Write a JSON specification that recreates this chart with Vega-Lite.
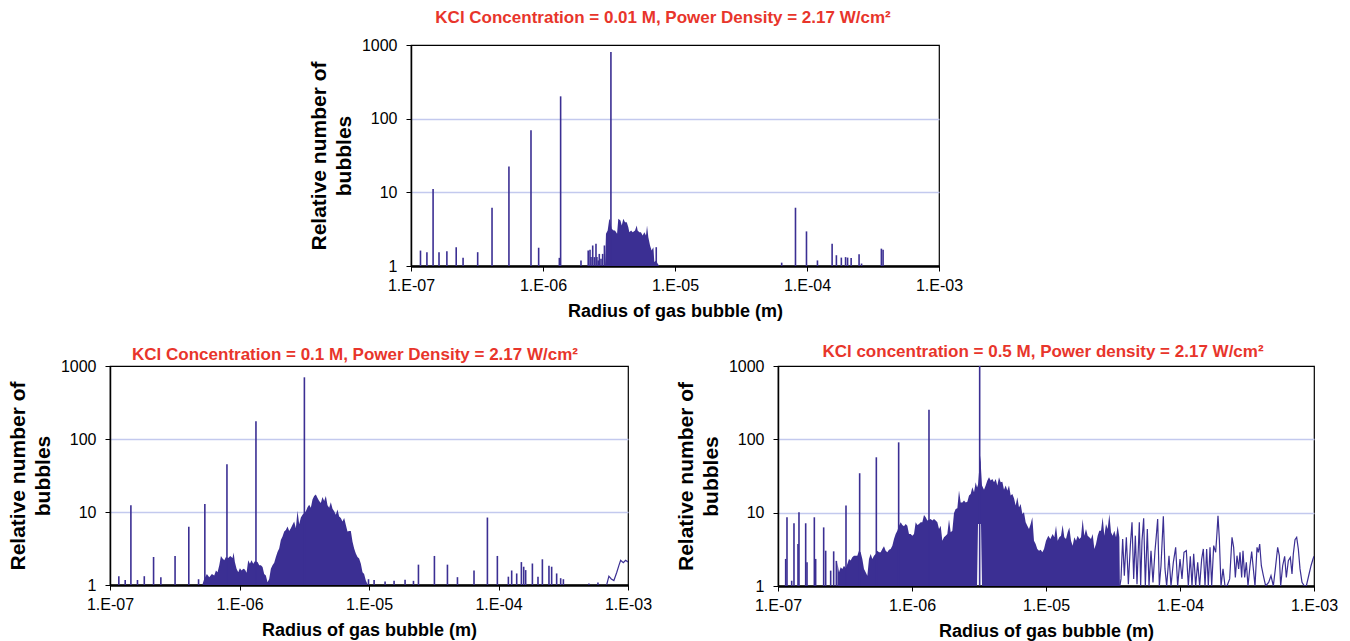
{
  "$schema": "https://vega.github.io/schema/vega-lite/v6.json",
  "background": "white",
  "padding": {"left": 6, "top": 8, "right": 0, "bottom": 0},
  "config": {
    "font": "Liberation Sans",
    "view": {"stroke": "#000000", "strokeWidth": 1.2},
    "axis": {"labelFont": "Liberation Sans", "labelFontSize": 16, "labelColor": "#000000", "titleFont": "Liberation Sans", "titleFontWeight": "bold", "titleColor": "#000000", "tickColor": "#000000", "domainColor": "#000000", "tickSize": 5, "labelOverlap": false, "labelFlush": false},
    "axisX": {"grid": false, "domainWidth": 2.5, "zindex": 1, "labelPadding": 6, "titlePadding": 9, "titleFontSize": 18},
    "axisY": {"domainWidth": 1.5, "labelPadding": 9, "titlePadding": 7, "titleFontSize": 21, "titleLineHeight": 25, "gridColor": "#c3c9ee", "gridWidth": 1.5},
    "title": {"font": "Liberation Sans", "fontSize": 17, "fontWeight": "bold", "color": "#e8352b", "anchor": "middle", "frame": "group"},
    "concat": {"spacing": 0}
  },
  "datasets": {
    "top_area": [
      {"r": 2.95e-6, "n": 1}, {"r": 3.00e-6, "n": 2.73}, {"r": 3.09e-6, "n": 3.03}, {"r": 3.18e-6, "n": 4.37}, {"r": 3.22e-6, "n": 4.14}, {"r": 3.31e-6, "n": 3.2}, {"r": 3.43e-6, "n": 3.03}, {"r": 3.51e-6, "n": 3.03}, {"r": 3.64e-6, "n": 2.73}, {"r": 3.72e-6, "n": 4.37}, {"r": 3.86e-6, "n": 4.14}, {"r": 3.95e-6, "n": 3.55}, {"r": 4.06e-6, "n": 4.37}, {"r": 4.18e-6, "n": 3.93}, {"r": 4.31e-6, "n": 3.93}, {"r": 4.43e-6, "n": 3.36}, {"r": 4.51e-6, "n": 2.88}, {"r": 4.65e-6, "n": 3.03}, {"r": 4.78e-6, "n": 2.88}, {"r": 4.98e-6, "n": 3.03}, {"r": 5.13e-6, "n": 3.55}, {"r": 5.21e-6, "n": 3.03}, {"r": 5.37e-6, "n": 2.88}, {"r": 5.52e-6, "n": 2.88}, {"r": 5.69e-6, "n": 2.59}, {"r": 5.86e-6, "n": 2.88}, {"r": 6.03e-6, "n": 2.59}, {"r": 6.14e-6, "n": 3.55}, {"r": 6.28e-6, "n": 2.46}, {"r": 6.47e-6, "n": 1.9}, {"r": 6.65e-6, "n": 1.62}, {"r": 6.86e-6, "n": 1.8}, {"r": 6.97e-6, "n": 1.13}, {"r": 7.18e-6, "n": 1.19}, {"r": 7.40e-6, "n": 1.07}, {"r": 7.60e-6, "n": 1}
    ],
    "top_spikes": [
      {"r": 1.18e-7, "n": 1.62}, {"r": 1.32e-7, "n": 1.54}, {"r": 1.47e-7, "n": 11.1}, {"r": 1.63e-7, "n": 1.54}, {"r": 1.87e-7, "n": 1.59}, {"r": 2.20e-7, "n": 1.8}, {"r": 2.48e-7, "n": 1.29}, {"r": 3.20e-7, "n": 1.54}, {"r": 4.11e-7, "n": 6.16}, {"r": 5.52e-7, "n": 22.4}, {"r": 8.11e-7, "n": 69.5}, {"r": 9.27e-7, "n": 1.77}, {"r": 1.33e-6, "n": 1.29}, {"r": 1.36e-6, "n": 201}, {"r": 1.94e-6, "n": 1.19},
      {"r": 2.20e-6, "n": 1.62}, {"r": 2.27e-6, "n": 1.66}, {"r": 2.31e-6, "n": 1.32}, {"r": 2.38e-6, "n": 1.9}, {"r": 2.45e-6, "n": 1.32}, {"r": 2.52e-6, "n": 2.0}, {"r": 2.56e-6, "n": 1.32}, {"r": 2.62e-6, "n": 1.19}, {"r": 2.67e-6, "n": 1.46}, {"r": 2.75e-6, "n": 1.25}, {"r": 2.83e-6, "n": 1.46}, {"r": 2.92e-6, "n": 1.9},
      {"r": 3.27e-6, "n": 804}, {"r": 7.21e-6, "n": 1.8}, {"r": 6.43e-5, "n": 1.11}, {"r": 8.18e-5, "n": 6.18}, {"r": 9.91e-5, "n": 2.95}, {"r": 1.20e-4, "n": 1.19}, {"r": 1.55e-4, "n": 2.01}, {"r": 1.67e-4, "n": 1.4}, {"r": 1.82e-4, "n": 1.3}, {"r": 1.96e-4, "n": 1.32}, {"r": 2.03e-4, "n": 1.3}, {"r": 2.16e-4, "n": 1.28}, {"r": 2.48e-4, "n": 1.44}, {"r": 2.59e-4, "n": 1.08}, {"r": 3.66e-4, "n": 1.72}, {"r": 3.77e-4, "n": 1.66}
    ],
    "bl_area": [
      {"r": 5.19e-7, "n": 1.03}, {"r": 5.34e-7, "n": 1.21}, {"r": 5.60e-7, "n": 1.42}, {"r": 5.84e-7, "n": 1.28}, {"r": 6.12e-7, "n": 1.42}, {"r": 6.38e-7, "n": 1.35}, {"r": 6.58e-7, "n": 1.58}, {"r": 6.77e-7, "n": 1.5}, {"r": 6.98e-7, "n": 1.86}, {"r": 7.19e-7, "n": 2.5}, {"r": 7.40e-7, "n": 2.3}, {"r": 7.63e-7, "n": 2.18}, {"r": 7.86e-7, "n": 2.42}, {"r": 8.18e-7, "n": 2.35}, {"r": 8.48e-7, "n": 2.5}, {"r": 8.84e-7, "n": 2.35}, {"r": 9.00e-7, "n": 2.78}, {"r": 9.21e-7, "n": 2.07}, {"r": 9.49e-7, "n": 1.67}, {"r": 9.78e-7, "n": 1.5}, {"r": 1.007e-6, "n": 1.7}, {"r": 1.038e-6, "n": 1.58}, {"r": 1.069e-6, "n": 1.67}, {"r": 1.101e-6, "n": 1.63}, {"r": 1.134e-6, "n": 1.47}, {"r": 1.168e-6, "n": 2.18}, {"r": 1.203e-6, "n": 1.96}, {"r": 1.239e-6, "n": 2.18}, {"r": 1.276e-6, "n": 1.96}, {"r": 1.315e-6, "n": 2.11}, {"r": 1.379e-6, "n": 2.07}, {"r": 1.42e-6, "n": 1.86}, {"r": 1.463e-6, "n": 1.86}, {"r": 1.507e-6, "n": 1.76}, {"r": 1.551e-6, "n": 1.42}, {"r": 1.598e-6, "n": 1.35}, {"r": 1.646e-6, "n": 1.09}, {"r": 1.695e-6, "n": 1.21}, {"r": 1.747e-6, "n": 1.67}, {"r": 1.799e-6, "n": 1.86}, {"r": 1.854e-6, "n": 2.02}, {"r": 1.909e-6, "n": 2.42}, {"r": 1.966e-6, "n": 2.84}, {"r": 2.025e-6, "n": 3.16}, {"r": 2.086e-6, "n": 4.13}, {"r": 2.149e-6, "n": 4.6}, {"r": 2.214e-6, "n": 5.39}, {"r": 2.28e-6, "n": 5.69}, {"r": 2.349e-6, "n": 6.33}, {"r": 2.419e-6, "n": 5.51}, {"r": 2.492e-6, "n": 5.99}, {"r": 2.567e-6, "n": 6.67}, {"r": 2.644e-6, "n": 7.42}, {"r": 2.724e-6, "n": 5.99}, {"r": 2.805e-6, "n": 10.4}, {"r": 2.89e-6, "n": 6.81}, {"r": 2.977e-6, "n": 8.43}, {"r": 3.066e-6, "n": 9.18}, {"r": 3.253e-6, "n": 10.2}, {"r": 3.351e-6, "n": 11.6}, {"r": 3.452e-6, "n": 12.6}, {"r": 3.555e-6, "n": 11.4}, {"r": 3.662e-6, "n": 14.8}, {"r": 3.772e-6, "n": 16.5}, {"r": 3.886e-6, "n": 17.4}, {"r": 4.004e-6, "n": 15.6}, {"r": 4.124e-6, "n": 14.1}, {"r": 4.248e-6, "n": 13.3}, {"r": 4.375e-6, "n": 16.0}, {"r": 4.507e-6, "n": 14.1}, {"r": 4.642e-6, "n": 16.5}, {"r": 4.781e-6, "n": 12.4}, {"r": 4.926e-6, "n": 11.4}, {"r": 5.073e-6, "n": 13.6}, {"r": 5.226e-6, "n": 11.1}, {"r": 5.383e-6, "n": 10.2}, {"r": 5.544e-6, "n": 9.18}, {"r": 5.711e-6, "n": 10.8}, {"r": 5.881e-6, "n": 8.71}, {"r": 6.058e-6, "n": 8.26}, {"r": 6.24e-6, "n": 7.42}, {"r": 6.43e-6, "n": 8.26}, {"r": 6.62e-6, "n": 6.67}, {"r": 6.82e-6, "n": 5.39}, {"r": 7.03e-6, "n": 5.51}, {"r": 7.24e-6, "n": 5.51}, {"r": 7.46e-6, "n": 3.92}, {"r": 7.68e-6, "n": 3.16}, {"r": 7.91e-6, "n": 2.7}, {"r": 8.15e-6, "n": 2.42}, {"r": 8.39e-6, "n": 2.3}, {"r": 8.65e-6, "n": 1.96}, {"r": 8.91e-6, "n": 1.5}, {"r": 9.17e-6, "n": 1.42}, {"r": 9.45e-6, "n": 1.15}, {"r": 9.73e-6, "n": 1.03}
    ],
    "bl_spikes": [
      {"r": 1.17e-7, "n": 1.32}, {"r": 1.31e-7, "n": 1.17}, {"r": 1.45e-7, "n": 12.4}, {"r": 1.63e-7, "n": 1.17}, {"r": 1.84e-7, "n": 1.32}, {"r": 2.17e-7, "n": 2.42}, {"r": 2.47e-7, "n": 1.28}, {"r": 3.18e-7, "n": 2.5}, {"r": 4.06e-7, "n": 6.3}, {"r": 4.83e-7, "n": 1.2}, {"r": 5.40e-7, "n": 12.9}, {"r": 8.0e-7, "n": 45}, {"r": 1.34e-6, "n": 175}, {"r": 3.17e-6, "n": 700}, {"r": 9.91e-6, "n": 1.2}, {"r": 1.095e-5, "n": 1.17}, {"r": 1.331e-5, "n": 1.12}, {"r": 1.562e-5, "n": 1.14}, {"r": 1.899e-5, "n": 1.18}, {"r": 2.205e-5, "n": 1.14}, {"r": 2.409e-5, "n": 1.9}, {"r": 3.2e-5, "n": 2.5}, {"r": 4.034e-5, "n": 1.9}, {"r": 4.82e-5, "n": 1.28}, {"r": 6.47e-5, "n": 1.58}, {"r": 8.21e-5, "n": 8.4}, {"r": 9.8e-5, "n": 2.5}, {"r": 1.192e-4, "n": 1.3}, {"r": 1.264e-4, "n": 1.58}, {"r": 1.382e-4, "n": 1.44}, {"r": 1.502e-4, "n": 2.06}, {"r": 1.565e-4, "n": 1.78}, {"r": 1.621e-4, "n": 1.6}, {"r": 1.827e-4, "n": 1.97}, {"r": 2.018e-4, "n": 1.3}, {"r": 2.182e-4, "n": 2.25}, {"r": 2.453e-4, "n": 1.84}, {"r": 2.573e-4, "n": 1.78}, {"r": 2.812e-4, "n": 1.44}, {"r": 3.02e-4, "n": 1.24}, {"r": 3.17e-4, "n": 1.2}, {"r": 4.99e-4, "n": 1.05}, {"r": 5.86e-4, "n": 1.08}
    ],
    "bl_line": [
      {"r": 6.84e-4, "n": 1.0}, {"r": 7.12e-4, "n": 1.32}, {"r": 7.43e-4, "n": 1.21}, {"r": 7.78e-4, "n": 1.15}, {"r": 8.17e-4, "n": 1.47}, {"r": 8.51e-4, "n": 1.86}, {"r": 8.77e-4, "n": 2.18}, {"r": 9.2e-4, "n": 2.02}, {"r": 9.58e-4, "n": 2.18}, {"r": 1.0e-3, "n": 2.07}
    ],
    "br_area": [
      {"r": 2.772e-7, "n": 2.1, "lo": 1}, {"r": 2.853e-7, "n": 1.54, "lo": 1}, {"r": 2.936e-7, "n": 1.8, "lo": 1}, {"r": 3.02e-7, "n": 1.71, "lo": 1}, {"r": 3.108e-7, "n": 1.89, "lo": 1}, {"r": 3.199e-7, "n": 1.74, "lo": 1}, {"r": 3.291e-7, "n": 2.0, "lo": 1}, {"r": 3.387e-7, "n": 2.34, "lo": 1}, {"r": 3.485e-7, "n": 2.22, "lo": 1}, {"r": 3.586e-7, "n": 2.46, "lo": 1}, {"r": 3.691e-7, "n": 2.59, "lo": 1}, {"r": 3.798e-7, "n": 2.59, "lo": 1}, {"r": 3.908e-7, "n": 2.59, "lo": 1}, {"r": 4.022e-7, "n": 3.03, "lo": 1}, {"r": 4.139e-7, "n": 2.88, "lo": 1}, {"r": 4.259e-7, "n": 2.34, "lo": 1}, {"r": 4.383e-7, "n": 1.71, "lo": 1}, {"r": 4.51e-7, "n": 1.54, "lo": 1}, {"r": 4.642e-7, "n": 1.38, "lo": 1}, {"r": 4.776e-7, "n": 2.34, "lo": 1}, {"r": 4.915e-7, "n": 2.73, "lo": 1}, {"r": 5.058e-7, "n": 2.34, "lo": 1}, {"r": 5.205e-7, "n": 2.59, "lo": 1}, {"r": 5.356e-7, "n": 2.73, "lo": 1}, {"r": 5.512e-7, "n": 3.03, "lo": 1}, {"r": 5.672e-7, "n": 2.88, "lo": 1}, {"r": 5.836e-7, "n": 2.88, "lo": 1}, {"r": 6.006e-7, "n": 3.2, "lo": 1}, {"r": 6.18e-7, "n": 3.48, "lo": 1}, {"r": 6.36e-7, "n": 3.03, "lo": 1}, {"r": 6.544e-7, "n": 2.88, "lo": 1}, {"r": 6.735e-7, "n": 3.13, "lo": 1}, {"r": 6.93e-7, "n": 3.2, "lo": 1}, {"r": 7.131e-7, "n": 3.55, "lo": 1}, {"r": 7.339e-7, "n": 4.38, "lo": 1}, {"r": 7.551e-7, "n": 5.12, "lo": 1}, {"r": 7.77e-7, "n": 5.69, "lo": 1}, {"r": 7.997e-7, "n": 6.65, "lo": 1}, {"r": 8.229e-7, "n": 7.39, "lo": 1}, {"r": 8.469e-7, "n": 6.79, "lo": 1}, {"r": 8.715e-7, "n": 6.51, "lo": 1}, {"r": 8.968e-7, "n": 7.01, "lo": 1}, {"r": 9.229e-7, "n": 6.65, "lo": 1}, {"r": 9.497e-7, "n": 5.12, "lo": 1}, {"r": 9.773e-7, "n": 5.12, "lo": 1}, {"r": 1.006e-6, "n": 4.86, "lo": 1}, {"r": 1.035e-6, "n": 5.12, "lo": 1}, {"r": 1.065e-6, "n": 7.39, "lo": 1}, {"r": 1.096e-6, "n": 6.79, "lo": 1}, {"r": 1.128e-6, "n": 7.01, "lo": 1}, {"r": 1.161e-6, "n": 7.39, "lo": 1}, {"r": 1.194e-6, "n": 7.39, "lo": 1}, {"r": 1.229e-6, "n": 9.3, "lo": 1}, {"r": 1.265e-6, "n": 8.65, "lo": 1}, {"r": 1.301e-6, "n": 7.79, "lo": 1}, {"r": 1.378e-6, "n": 8.2, "lo": 1}, {"r": 1.418e-6, "n": 7.79, "lo": 1}, {"r": 1.46e-6, "n": 8.2, "lo": 1}, {"r": 1.502e-6, "n": 7.79, "lo": 1}, {"r": 1.546e-6, "n": 7.39, "lo": 1}, {"r": 1.591e-6, "n": 6.0, "lo": 1}, {"r": 1.637e-6, "n": 6.65, "lo": 1}, {"r": 1.684e-6, "n": 4.15, "lo": 1}, {"r": 1.733e-6, "n": 4.61, "lo": 1}, {"r": 1.784e-6, "n": 4.86, "lo": 1}, {"r": 1.835e-6, "n": 5.12, "lo": 1}, {"r": 1.889e-6, "n": 8.04, "lo": 1}, {"r": 1.944e-6, "n": 5.4, "lo": 1}, {"r": 2.0e-6, "n": 5.69, "lo": 1}, {"r": 2.058e-6, "n": 9.9, "lo": 1}, {"r": 2.118e-6, "n": 11.2, "lo": 1}, {"r": 2.18e-6, "n": 11.5, "lo": 1}, {"r": 2.243e-6, "n": 20, "lo": 1}, {"r": 2.308e-6, "n": 13.8, "lo": 1}, {"r": 2.375e-6, "n": 13.8, "lo": 1}, {"r": 2.444e-6, "n": 14.6, "lo": 1}, {"r": 2.515e-6, "n": 13.8, "lo": 1}, {"r": 2.588e-6, "n": 14.1, "lo": 1}, {"r": 2.664e-6, "n": 17.1, "lo": 1}, {"r": 2.741e-6, "n": 18, "lo": 1}, {"r": 2.821e-6, "n": 22.2, "lo": 1}, {"r": 2.903e-6, "n": 19, "lo": 1}, {"r": 2.987e-6, "n": 26, "lo": 1}, {"r": 3.057e-6, "n": 22, "lo": 1}, {"r": 3.109e-6, "n": 24, "lo": 7}, {"r": 3.162e-6, "n": 35.5, "lo": 7}, {"r": 3.254e-6, "n": 60, "lo": 7}, {"r": 3.273e-6, "n": 40, "lo": 7}, {"r": 3.33e-6, "n": 23.4, "lo": 1}, {"r": 3.446e-6, "n": 20.6, "lo": 1}, {"r": 3.546e-6, "n": 23.4, "lo": 1}, {"r": 3.65e-6, "n": 27.4, "lo": 1}, {"r": 3.756e-6, "n": 30.4, "lo": 1}, {"r": 3.865e-6, "n": 27.4, "lo": 1}, {"r": 3.977e-6, "n": 28.8, "lo": 1}, {"r": 4.093e-6, "n": 26, "lo": 1}, {"r": 4.212e-6, "n": 28.8, "lo": 1}, {"r": 4.334e-6, "n": 23.4, "lo": 1}, {"r": 4.46e-6, "n": 30.4, "lo": 1}, {"r": 4.589e-6, "n": 26, "lo": 1}, {"r": 4.723e-6, "n": 26.5, "lo": 1}, {"r": 4.86e-6, "n": 20.6, "lo": 1}, {"r": 5.001e-6, "n": 23.4, "lo": 1}, {"r": 5.146e-6, "n": 20, "lo": 1}, {"r": 5.296e-6, "n": 23.4, "lo": 1}, {"r": 5.449e-6, "n": 17.1, "lo": 1}, {"r": 5.608e-6, "n": 18, "lo": 1}, {"r": 5.77e-6, "n": 15.7, "lo": 1}, {"r": 5.938e-6, "n": 12.5, "lo": 1}, {"r": 6.11e-6, "n": 16.2, "lo": 1}, {"r": 6.288e-6, "n": 11.8, "lo": 1}, {"r": 6.47e-6, "n": 13.1, "lo": 1}, {"r": 6.658e-6, "n": 9.6, "lo": 1}, {"r": 6.851e-6, "n": 10.1, "lo": 1}, {"r": 7.05e-6, "n": 7.39, "lo": 1}, {"r": 7.255e-6, "n": 6.65, "lo": 1}, {"r": 7.466e-6, "n": 6.0, "lo": 1}, {"r": 7.682e-6, "n": 7.01, "lo": 1}, {"r": 7.905e-6, "n": 8.65, "lo": 1}, {"r": 8.135e-6, "n": 4.15, "lo": 1}, {"r": 8.371e-6, "n": 3.74, "lo": 1}, {"r": 8.614e-6, "n": 3.2, "lo": 1}, {"r": 8.866e-6, "n": 3.03, "lo": 1}, {"r": 9.124e-6, "n": 3.13, "lo": 1}, {"r": 9.389e-6, "n": 2.88, "lo": 1}, {"r": 9.663e-6, "n": 3.2, "lo": 1},
      {"r": 1.0e-5, "n": 4.15, "lo": 1}, {"r": 1.041e-5, "n": 4.86, "lo": 1}, {"r": 1.077e-5, "n": 4.38, "lo": 1}, {"r": 1.121e-5, "n": 5.12, "lo": 1}, {"r": 1.154e-5, "n": 4.61, "lo": 1}, {"r": 1.188e-5, "n": 6.65, "lo": 1}, {"r": 1.222e-5, "n": 4.15, "lo": 1}, {"r": 1.257e-5, "n": 4.61, "lo": 1}, {"r": 1.294e-5, "n": 4.86, "lo": 1}, {"r": 1.331e-5, "n": 6.79, "lo": 1}, {"r": 1.37e-5, "n": 4.61, "lo": 1}, {"r": 1.41e-5, "n": 4.38, "lo": 1}, {"r": 1.451e-5, "n": 5.4, "lo": 1}, {"r": 1.493e-5, "n": 6.3, "lo": 1}, {"r": 1.537e-5, "n": 4.15, "lo": 1}, {"r": 1.581e-5, "n": 3.55, "lo": 1}, {"r": 1.627e-5, "n": 4.61, "lo": 1}, {"r": 1.675e-5, "n": 4.15, "lo": 1}, {"r": 1.723e-5, "n": 4.86, "lo": 1}, {"r": 1.773e-5, "n": 4.38, "lo": 1}, {"r": 1.825e-5, "n": 4.61, "lo": 1}, {"r": 1.878e-5, "n": 8.2, "lo": 1}, {"r": 1.932e-5, "n": 4.86, "lo": 1}, {"r": 1.988e-5, "n": 6.0, "lo": 1}, {"r": 2.046e-5, "n": 4.86, "lo": 1}, {"r": 2.105e-5, "n": 4.61, "lo": 1}, {"r": 2.167e-5, "n": 4.38, "lo": 1}, {"r": 2.23e-5, "n": 5.12, "lo": 1}, {"r": 2.295e-5, "n": 3.2, "lo": 1}, {"r": 2.362e-5, "n": 3.74, "lo": 1}, {"r": 2.43e-5, "n": 4.86, "lo": 1}, {"r": 2.5e-5, "n": 5.69, "lo": 1}, {"r": 2.573e-5, "n": 5.69, "lo": 1}, {"r": 2.648e-5, "n": 8.65, "lo": 1}, {"r": 2.725e-5, "n": 4.86, "lo": 1}, {"r": 2.804e-5, "n": 7.01, "lo": 1}, {"r": 2.885e-5, "n": 6.0, "lo": 1}, {"r": 2.97e-5, "n": 9.6, "lo": 1}, {"r": 3.056e-5, "n": 5.4, "lo": 1}, {"r": 3.145e-5, "n": 4.86, "lo": 1}, {"r": 3.236e-5, "n": 5.69, "lo": 1}, {"r": 3.33e-5, "n": 4.61, "lo": 1}, {"r": 3.426e-5, "n": 6.65, "lo": 1}, {"r": 3.526e-5, "n": 4.61, "lo": 1}, {"r": 3.56e-5, "n": 1, "lo": 1}
    ],
    "br_spikes": [
      {"r": 1.141e-7, "n": 2.34}, {"r": 1.167e-7, "n": 8.65}, {"r": 1.265e-7, "n": 1.18}, {"r": 1.316e-7, "n": 7.17}, {"r": 1.41e-7, "n": 3.74}, {"r": 1.434e-7, "n": 10.1}, {"r": 1.609e-7, "n": 7.17}, {"r": 1.646e-7, "n": 2.1}, {"r": 1.867e-7, "n": 8.65}, {"r": 1.91e-7, "n": 2.34}, {"r": 2.192e-7, "n": 6.3}, {"r": 2.269e-7, "n": 3.03}, {"r": 2.472e-7, "n": 1.62}, {"r": 2.603e-7, "n": 2.97}, {"r": 2.725e-7, "n": 2.2}, {"r": 3.217e-7, "n": 12.5}, {"r": 4.068e-7, "n": 34.5}, {"r": 5.418e-7, "n": 56.9}, {"r": 7.951e-7, "n": 91}, {"r": 1.339e-6, "n": 254}, {"r": 3.199e-6, "n": 1000}
    ],
    "br_line": [
      {"r": 3.56e-5, "n": 1.0}, {"r": 3.628e-5, "n": 1.25}, {"r": 3.734e-5, "n": 4.38}, {"r": 3.842e-5, "n": 1.38}, {"r": 3.977e-5, "n": 4.61}, {"r": 4.117e-5, "n": 1.06}, {"r": 4.26e-5, "n": 3.55}, {"r": 4.384e-5, "n": 7.4}, {"r": 4.512e-5, "n": 1.25}, {"r": 4.642e-5, "n": 4.86}, {"r": 4.776e-5, "n": 1.06}, {"r": 4.971e-5, "n": 7.4}, {"r": 5.087e-5, "n": 1.0}, {"r": 5.205e-5, "n": 4.15}, {"r": 5.356e-5, "n": 8.37}, {"r": 5.511e-5, "n": 1.0}, {"r": 5.704e-5, "n": 6.0}, {"r": 5.871e-5, "n": 1.0}, {"r": 6.075e-5, "n": 3.03}, {"r": 6.287e-5, "n": 1.12}, {"r": 6.508e-5, "n": 3.03}, {"r": 6.658e-5, "n": 4.86}, {"r": 6.813e-5, "n": 8.2}, {"r": 7.011e-5, "n": 1.0}, {"r": 7.214e-5, "n": 1.89}, {"r": 7.51e-5, "n": 8.93}, {"r": 7.728e-5, "n": 1.71}, {"r": 7.952e-5, "n": 1.0}, {"r": 8.277e-5, "n": 2.59}, {"r": 8.567e-5, "n": 1.0}, {"r": 8.918e-5, "n": 2.1}, {"r": 9.283e-5, "n": 3.37}, {"r": 9.607e-5, "n": 1.0}, {"r": 1.0e-4, "n": 2.33}, {"r": 1.035e-4, "n": 1.25}, {"r": 1.071e-4, "n": 2.88}, {"r": 1.115e-4, "n": 3.03}, {"r": 1.154e-4, "n": 1.0}, {"r": 1.194e-4, "n": 2.54}, {"r": 1.229e-4, "n": 1.0}, {"r": 1.265e-4, "n": 2.74}, {"r": 1.309e-4, "n": 1.0}, {"r": 1.355e-4, "n": 2.1}, {"r": 1.402e-4, "n": 1.0}, {"r": 1.451e-4, "n": 2.33}, {"r": 1.493e-4, "n": 3.2}, {"r": 1.537e-4, "n": 1.0}, {"r": 1.581e-4, "n": 3.2}, {"r": 1.627e-4, "n": 1.0}, {"r": 1.675e-4, "n": 3.37}, {"r": 1.724e-4, "n": 1.0}, {"r": 1.784e-4, "n": 3.55}, {"r": 1.846e-4, "n": 2.88}, {"r": 1.889e-4, "n": 5.4}, {"r": 1.921e-4, "n": 9.1}, {"r": 1.966e-4, "n": 4.38}, {"r": 2.023e-4, "n": 1.0}, {"r": 2.094e-4, "n": 1.71}, {"r": 2.167e-4, "n": 1.0}, {"r": 2.243e-4, "n": 1.0}, {"r": 2.348e-4, "n": 1.25}, {"r": 2.444e-4, "n": 4.61}, {"r": 2.514e-4, "n": 3.37}, {"r": 2.588e-4, "n": 1.31}, {"r": 2.663e-4, "n": 2.59}, {"r": 2.74e-4, "n": 1.71}, {"r": 2.804e-4, "n": 2.88}, {"r": 2.885e-4, "n": 1.31}, {"r": 2.952e-4, "n": 3.03}, {"r": 3.038e-4, "n": 1.31}, {"r": 3.126e-4, "n": 2.1}, {"r": 3.217e-4, "n": 1.0}, {"r": 3.33e-4, "n": 1.89}, {"r": 3.427e-4, "n": 2.94}, {"r": 3.526e-4, "n": 1.71}, {"r": 3.628e-4, "n": 1.0}, {"r": 3.756e-4, "n": 3.37}, {"r": 3.842e-4, "n": 2.88}, {"r": 3.933e-4, "n": 3.74}, {"r": 4.046e-4, "n": 1.89}, {"r": 4.188e-4, "n": 1.38}, {"r": 4.358e-4, "n": 1.0}, {"r": 4.588e-4, "n": 1.12}, {"r": 4.776e-4, "n": 1.38}, {"r": 4.972e-4, "n": 1.0}, {"r": 5.146e-4, "n": 1.71}, {"r": 5.356e-4, "n": 3.37}, {"r": 5.511e-4, "n": 2.59}, {"r": 5.64e-4, "n": 1.0}, {"r": 5.836e-4, "n": 1.89}, {"r": 6.04e-4, "n": 2.54}, {"r": 6.216e-4, "n": 1.31}, {"r": 6.433e-4, "n": 2.22}, {"r": 6.658e-4, "n": 2.46}, {"r": 6.852e-4, "n": 1.46}, {"r": 7.011e-4, "n": 2.74}, {"r": 7.216e-4, "n": 4.29}, {"r": 7.425e-4, "n": 4.61}, {"r": 7.64e-4, "n": 3.2}, {"r": 7.863e-4, "n": 1.71}, {"r": 8.138e-4, "n": 1.12}, {"r": 8.47e-4, "n": 1.0}, {"r": 8.766e-4, "n": 1.0}, {"r": 9.125e-4, "n": 1.38}, {"r": 9.5e-4, "n": 1.89}, {"r": 9.831e-4, "n": 2.33}, {"r": 1.0e-3, "n": 2.54}
    ]
  },
  "vconcat": [
    {
      "hconcat": [
        {"width": 197, "height": 10, "view": {"stroke": null}, "data": {"values": []}, "mark": {"type": "point", "opacity": 0}, "encoding": {}},
        {
          "width": 528, "height": 221,
          "title": {"text": "KCl Concentration = 0.01 M, Power Density = 2.17 W/cm²", "offset": 10, "dx": -12},
          "encoding": {
            "x": {"field": "r", "type": "quantitative", "scale": {"type": "log", "domain": [1e-7, 1e-3], "nice": false}, "axis": {"values": [1e-7, 1e-6, 1e-5, 1e-4, 1e-3], "labelExpr": "'1.E-0' + round(-log(datum.value)/LN10)", "title": "Radius of gas bubble (m)"}},
            "y": {"field": "n", "type": "quantitative", "scale": {"type": "log", "domain": [1, 1000], "nice": false}, "axis": {"values": [1, 10, 100, 1000], "format": "d", "title": ["Relative number of", "bubbles"], "gridOpacity": {"condition": {"test": "datum.value == 1 || datum.value == 1000", "value": 0}, "value": 1}}}
          },
          "layer": [
            {"data": {"name": "top_area"}, "mark": {"type": "area", "orient": "vertical", "color": "#3b2f93", "clip": true}, "encoding": {"y2": {"datum": 1}}},
            {"data": {"name": "top_spikes"}, "mark": {"type": "rule", "color": "#3b2f93", "strokeWidth": 1.6, "clip": true}, "encoding": {"y2": {"datum": 1}}}
          ]
        }
      ]
    },
    {
      "spacing": 0,
      "hconcat": [
        {
          "width": 518, "height": 219,
          "title": {"text": "KCl Concentration = 0.1 M, Power Density = 2.17 W/cm²", "offset": -6, "dx": -14},
          "encoding": {
            "x": {"field": "r", "type": "quantitative", "scale": {"type": "log", "domain": [1e-7, 1e-3], "nice": false}, "axis": {"values": [1e-7, 1e-6, 1e-5, 1e-4, 1e-3], "labelExpr": "'1.E-0' + round(-log(datum.value)/LN10)", "title": "Radius of gas bubble (m)"}},
            "y": {"field": "n", "type": "quantitative", "scale": {"type": "log", "domain": [1, 1000], "nice": false}, "axis": {"values": [1, 10, 100, 1000], "format": "d", "title": ["Relative number of", "bubbles"], "gridOpacity": {"condition": {"test": "datum.value == 1 || datum.value == 1000", "value": 0}, "value": 1}}}
          },
          "layer": [
            {"data": {"name": "bl_area"}, "mark": {"type": "area", "orient": "vertical", "color": "#3b2f93", "clip": true}, "encoding": {"y2": {"datum": 1}}},
            {"data": {"name": "bl_spikes"}, "mark": {"type": "rule", "color": "#3b2f93", "strokeWidth": 1.6, "clip": true}, "encoding": {"y2": {"datum": 1}}},
            {"data": {"name": "bl_line"}, "mark": {"type": "line", "color": "#3b2f93", "strokeWidth": 1.2, "clip": true}, "encoding": {}}
          ]
        },
        {"width": 21, "height": 10, "view": {"stroke": null}, "data": {"values": []}, "mark": {"type": "point", "opacity": 0}, "encoding": {}},
        {
          "width": 536, "height": 220,
          "title": {"text": "KCl concentration = 0.5 M, Power density = 2.17 W/cm²", "offset": -3, "dx": -3},
          "encoding": {
            "x": {"field": "r", "type": "quantitative", "scale": {"type": "log", "domain": [1e-7, 1e-3], "nice": false}, "axis": {"values": [1e-7, 1e-6, 1e-5, 1e-4, 1e-3], "labelExpr": "'1.E-0' + round(-log(datum.value)/LN10)", "title": "Radius of gas bubble (m)"}},
            "y": {"field": "n", "type": "quantitative", "scale": {"type": "log", "domain": [1, 1000], "nice": false}, "axis": {"values": [1, 10, 100, 1000], "format": "d", "title": ["Relative number of", "bubbles"], "gridOpacity": {"condition": {"test": "datum.value == 1 || datum.value == 1000", "value": 0}, "value": 1}}}
          },
          "layer": [
            {"data": {"name": "br_area"}, "mark": {"type": "area", "orient": "vertical", "color": "#3b2f93", "clip": true}, "encoding": {"y2": {"field": "lo"}}},
            {"data": {"name": "br_spikes"}, "mark": {"type": "rule", "color": "#3b2f93", "strokeWidth": 1.6, "clip": true}, "encoding": {"y2": {"datum": 1}}},
            {"data": {"name": "br_line"}, "mark": {"type": "line", "color": "#3b2f93", "strokeWidth": 1.2, "clip": true}, "encoding": {}}
          ]
        }
      ]
    }
  ],
  "spacing": 21
}
